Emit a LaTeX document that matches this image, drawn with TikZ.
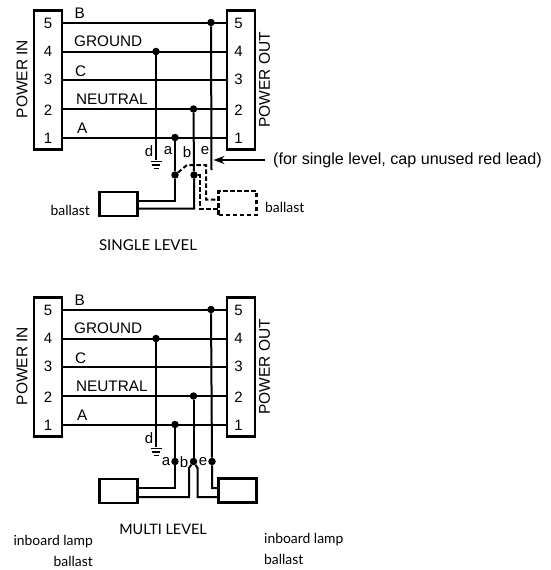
\documentclass[tikz,border=0pt]{standalone}
\usepackage{fontspec}
\setmainfont{Liberation Sans}
\newfontfamily\futura{Lato}
\usetikzlibrary{arrows.meta}
\tikzset{
  wire/.style={line width=2pt,line join=miter},
  pinbox/.style={draw,line width=2.4pt,minimum width=28.5pt,minimum height=139pt,inner sep=0pt},
  ballastbox/.style={draw,line width=2.4pt,minimum width=38pt,minimum height=24pt,inner sep=0pt},
  dashedbox/.style={ballastbox,dash pattern=on 4.5pt off 2.5pt},
  dashwire/.style={wire,dash pattern=on 4.5pt off 2.5pt},
  lab/.style={font=\fontsize{15.3}{15.3}\selectfont,inner sep=0pt},
  note/.style={font=\fontsize{16.1}{16.1}\selectfont,inner sep=0pt},
  pinnum/.style={font=\fontsize{15}{15}\selectfont,inner sep=0pt},
  side/.style={font=\fontsize{15.5}{15.5}\selectfont,inner sep=0pt,rotate=90},
  fut/.style={font=\futura\fontsize{15}{15}\selectfont,inner sep=0pt},
  futs/.style={font=\futura\fontsize{13.9}{13.9}\selectfont,inner sep=0pt},
  junction/.style={circle,fill=black,draw=none,minimum size=7.5pt,inner sep=0pt},
}
\newcommand{\wireblock}[2]{%
  \begin{scope}[yshift=-#2pt,name prefix=#1]
  \node[pinbox] (L) at (48,-80) {};
  \node[pinbox] (R) at (241,-80) {};
  \foreach \n/\y/\ty in {5/22.5/23,4/51.5/51,3/80/79.5,2/109/110,1/137.5/138}{
    \node[pinnum] (ln\n) at (48,-\ty) {\n};
    \node[pinnum] (rn\n) at (238.5,-\ty) {\n};
    \coordinate (a\n) at (62,-\y);
    \coordinate (z\n) at (226.5,-\y);
    \draw[wire] (a\n) -- (z\n);
  }
  \node[lab,anchor=west] (tB) at (74.5,-13) {B};
  \node[lab,anchor=west] (tG) at (74,-41.5) {GROUND};
  \node[lab,anchor=west] (tC) at (75,-71) {C};
  \node[lab,anchor=west] (tN) at (76,-99) {NEUTRAL};
  \node[lab,anchor=west] (tA) at (77,-128) {A};
  \node[side] (pin) at (22,-79) {POWER IN};
  \node[side] (pout) at (264.5,-80) {POWER OUT};
  \node[junction] (jB) at (211,-22.5) {};
  \node[junction] (jG) at (156,-51.5) {};
  \node[junction] (jN) at (193.5,-109) {};
  \node[junction] (jA) at (175,-137.5) {};
  \coordinate (gnd) at (156,-160);
  \draw[wire] (jG) -- (gnd);
  \draw[line width=1.8pt] (150.5,-161.5) -- (161.5,-161.5);
  \draw[line width=1.7pt] (152,-165) -- (160,-165);
  \draw[line width=1.7pt] (154,-168.5) -- (158.5,-168.5);
  \end{scope}}
\begin{document}
\begin{tikzpicture}[x=1pt,y=1pt]
\useasboundingbox (0,0) rectangle (551,-570);
% ---------- single level
\wireblock{s}{0}
\node[pinnum] (sd) at (149,-151) {d};
\node[pinnum] (sa) at (168,-151) {a};
\node[pinnum] (sb) at (187,-152) {b};
\node[pinnum] (se) at (205,-151) {e};
\node[ballastbox] (sbl) at (118.5,-204) {};
\node[dashedbox] (sbr) at (237.5,-203) {};
\node[junction] (sj1) at (175,-175) {};
\node[junction] (sj2) at (194,-175) {};
\coordinate (se1) at (211.5,-170);
\coordinate (sarrow) at (265,-160);
\coordinate (sarrowtip) at (213.5,-160);
\draw[wire] (sjA) -- (sj1) -- (175,-200.5) -- (137.5,-200.5);
\draw[wire] (sjN) -- (sj2) -- (194,-208.5) -- (137.5,-208.5);
\draw[wire] (sjB) -- (se1);
\draw[dashwire] (sj1) -- (187,-165) -- (206,-165) -- (206,-199.5) -- (218.5,-199.5);
\draw[dashwire] (sj2) -- (199.5,-175) -- (199.5,-208.5) -- (218.5,-208.5);
\draw[wire,-{Stealth[length=11pt,width=8pt]}] (sarrow) -- (sarrowtip);
\node[note,anchor=west] (notetxt) at (273,-160) {(for single level, cap unused red lead)};
\node[futs,anchor=east] (sbt1) at (90,-210) {ballast};
\node[futs,anchor=west] (sbt2) at (265,-207.5) {ballast};
\node[fut] (stitle) at (148,-245) {SINGLE LEVEL};
% ---------- multi level
\wireblock{m}{287}
\node[pinnum] (md) at (149,-438) {d};
\node[pinnum] (ma) at (166,-462) {a};
\node[pinnum] (mb) at (184,-462) {b};
\node[pinnum] (me) at (203,-462) {e};
\node[ballastbox] (mbl) at (118.5,-491) {};
\node[ballastbox] (mbr) at (237.5,-490.5) {};
\node[junction] (mj1) at (175,-461.5) {};
\node[junction] (mj2) at (193.5,-461.5) {};
\node[junction] (mj3) at (212,-461.5) {};
\draw[wire] (mjA) -- (mj1) -- (175,-487.5) -- (137.5,-487.5);
\draw[wire] (mjN) -- (mj2);
\draw[wire] (mjB) -- (mj3) -- (212,-488) -- (218.5,-488);
\draw[wire] (mj2) -- (189,-468) -- (189,-497) -- (137.5,-497);
\draw[wire] (mj2) -- (197.5,-468) -- (197.5,-497) -- (218.5,-497);
\node[fut,font=\futura\fontsize{14.4}{14.4}\selectfont] (mtitle) at (163,-529) {MULTI LEVEL};
\node[futs,anchor=east] (mt1) at (93,-542) {inboard lamp};
\node[futs,anchor=east] (mt2) at (93,-561) {ballast};
\node[futs,anchor=west] (mt3) at (264,-540) {inboard lamp};
\node[futs,anchor=west] (mt4) at (264,-559) {ballast};
\end{tikzpicture}
\end{document}
